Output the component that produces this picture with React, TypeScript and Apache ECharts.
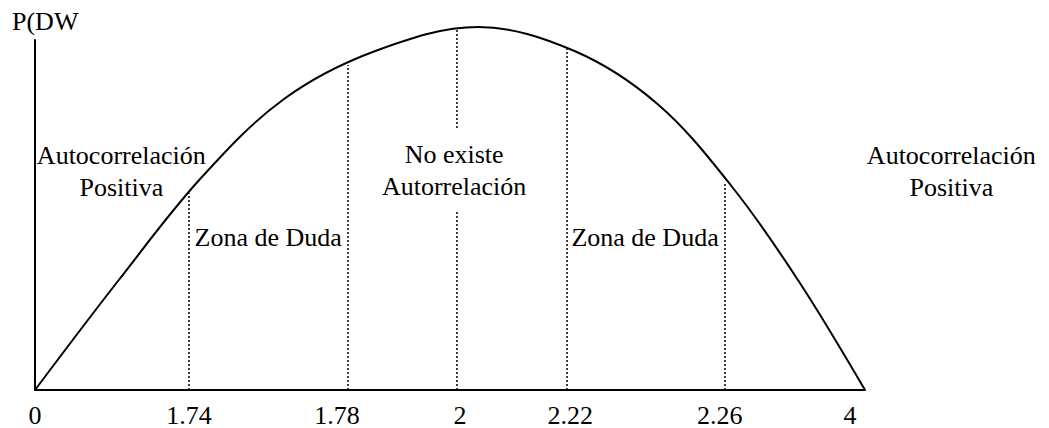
import React, { useEffect, useRef } from "react";
import * as echarts from "echarts";

// Schematic DW axis: 0..100 along the axis, density height 0..350
const tickLabels = ["0", "1.74", "1.78", "2", "2.22", "2.26", "4"];
const tickLabelPos = [0, 18.55, 36.4, 51.2, 64.5, 82.5, 98.2];

const criticalPos = [18.55, 37.71, 50.84, 64.1, 83.13];
const criticalHeights = [197, 325, 362, 341, 208];
// gap in the centre line around the "No existe Autorrelación" text
const centreGap = [180, 262];

const curveX = [0, 10, 20, 30, 41, 53.4, 65, 75, 84, 92, 100];
const curveY = [0, 109, 212, 291, 339, 363, 339, 286, 203, 109, 0];

const zoneTexts = [
  "Autocorrelación\nPositiva",
  "Zona de Duda",
  "No existe\nAutorrelación",
  "Zona de Duda",
  "Autocorrelación\nPositiva",
];
const zoneX = [10.4, 28.1, 50.5, 73.5, 110.4];
const zoneY = [218.5, 153, 220, 153, 218.5];

const FONT = "'Liberation Serif', 'Times New Roman', serif";

export default function App() {
  const ref = useRef<HTMLDivElement>(null);
  useEffect(() => {
    if (!ref.current) return;
    const chart = echarts.init(ref.current, undefined, { renderer: "svg" });

    const segments: number[][][] = [];
    criticalPos.forEach((x, i) => {
      if (i === 2) {
        segments.push([[x, 0], [x, centreGap[0]]]);
        segments.push([[x, centreGap[1]], [x, criticalHeights[i]]]);
      } else {
        segments.push([[x, 0], [x, criticalHeights[i]]]);
      }
    });

    const dottedSeries = segments.map((seg) => ({
      type: "line",
      data: seg,
      clip: false,
      showSymbol: false,
      silent: true,
      lineStyle: { color: "#000", width: 1.5, type: [2, 2] },
    }));

    chart.setOption({
      animation: false,
      title: {
        text: "P(DW",
        left: 7,
        top: 3,
        textStyle: { fontFamily: FONT, fontSize: 26, fontWeight: "normal", color: "#000" },
      },
      grid: { left: 35, top: 40, width: 830, height: 350, containLabel: false },
      xAxis: {
        type: "value",
        min: 0,
        max: 100,
        splitLine: { show: false },
        axisTick: { show: false },
        axisLine: { show: true, lineStyle: { color: "#000", width: 2 } },
        axisLabel: {
          customValues: tickLabelPos,
          formatter: (v: number) => {
            const i = tickLabelPos.findIndex((p) => Math.abs(p - v) < 1e-6);
            return i >= 0 ? tickLabels[i] : "";
          },
          margin: 12,
          fontFamily: FONT,
          fontSize: 26,
          color: "#000",
        },
      },
      yAxis: {
        type: "value",
        min: 0,
        max: 350,
        splitLine: { show: false },
        axisTick: { show: false },
        axisLabel: { show: false },
        axisLine: { show: true, lineStyle: { color: "#000", width: 2 } },
      },
      series: [
        {
          type: "line",
          data: curveX.map((x, i) => [x, curveY[i]]),
          smooth: 0.35,
          showSymbol: false,
          clip: false,
          lineStyle: { color: "#000", width: 2 },
        },
        ...dottedSeries,
        {
          type: "scatter",
          clip: false,
          symbolSize: 0,
          itemStyle: { opacity: 1 },
          data: zoneX.map((x, i) => [x, zoneY[i]]),
          label: {
            show: true,
            position: "inside",
            formatter: (p: any) => zoneTexts[p.dataIndex],
            fontFamily: FONT,
            fontSize: 26,
            lineHeight: 32,
            color: "#000",
            opacity: 1,
            align: "center",
            verticalAlign: "middle",
          },
        },
      ],
    });
    return () => chart.dispose();
  }, []);

  return (
    <div
      ref={ref}
      style={{ position: "absolute", left: 0, top: 0, width: 1049, height: 428, background: "#fff" }}
    />
  );
}
